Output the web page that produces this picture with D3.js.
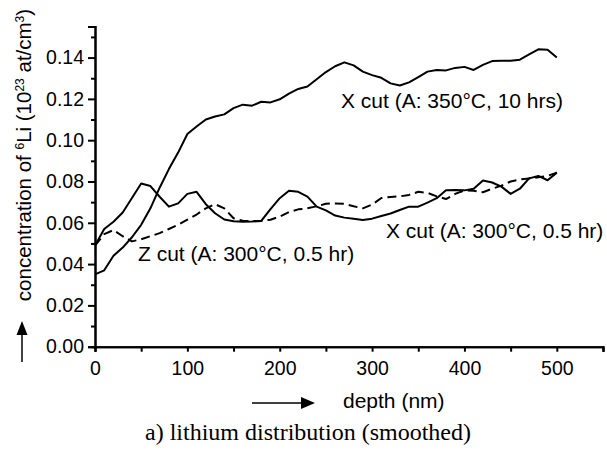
<!DOCTYPE html>
<html><head><meta charset="utf-8">
<script src="https://cdn.jsdelivr.net/npm/d3@7"></script>
<style>body{margin:0;background:#fff}svg{display:block}</style>
</head><body>
<svg id="c" width="607" height="456"></svg>
<script>
const depth = [0,10,20,30,40,50,60,70,80,90,100,110,120,130,140,150,160,170,180,190,200,210,220,230,240,250,260,270,280,290,300,310,320,330,340,350,360,370,380,390,400,410,420,430,440,450,460,470,480,490,500];
const xcut350 = [0.035,0.037,0.044,0.048,0.053,0.059,0.067,0.077,0.086,0.094,0.103,0.1066,0.110,0.1115,0.1125,0.1155,0.1172,0.1167,0.1186,0.1183,0.1198,0.1225,0.1248,0.126,0.1295,0.133,0.1358,0.1377,0.1362,0.1332,0.1315,0.1302,0.1275,0.1265,0.128,0.1305,0.1332,0.134,0.1338,0.135,0.1355,0.134,0.1365,0.1383,0.1385,0.1385,0.139,0.1415,0.144,0.1438,0.140];
const xcut300 = [0.049,0.057,0.0605,0.065,0.072,0.079,0.0778,0.0726,0.0678,0.0694,0.074,0.075,0.069,0.0646,0.0616,0.0607,0.0605,0.0606,0.0609,0.0666,0.0719,0.0755,0.075,0.0727,0.0678,0.066,0.0635,0.0625,0.062,0.0614,0.062,0.0633,0.0645,0.0662,0.0678,0.0678,0.0698,0.0719,0.0758,0.0759,0.0757,0.0765,0.0805,0.0795,0.0775,0.074,0.0765,0.0815,0.0827,0.0806,0.0843];
const zcut300 = [0.049,0.0545,0.0565,0.0535,0.051,0.052,0.0535,0.055,0.057,0.059,0.0615,0.064,0.067,0.069,0.067,0.0622,0.061,0.0608,0.0609,0.0615,0.063,0.0652,0.0665,0.067,0.068,0.0692,0.0694,0.0692,0.068,0.067,0.0688,0.072,0.0725,0.0728,0.0735,0.075,0.0745,0.0728,0.0715,0.074,0.0757,0.0755,0.0748,0.0765,0.078,0.080,0.081,0.0815,0.082,0.0827,0.0843];
const xTicks = [0,100,200,300,400,500];
const yTicks = [0,0.02,0.04,0.06,0.08,0.10,0.12,0.14];
const seriesNames = ["X cut (A: 350°C, 10 hrs)","X cut (A: 300°C, 0.5 hr)","Z cut (A: 300°C, 0.5 hr)"];

const svg = d3.select("#c");
const x = d3.scaleLinear().domain([0,550]).range([95,603]);
const y = d3.scaleLinear().domain([0,0.155]).range([346.7,26.6]);
const sans = "'Liberation Sans', Arial, Helvetica, sans-serif";

// axes
const xAxis = d3.axisBottom(x).tickValues(xTicks).tickSize(5).tickPadding(9).tickFormat(d3.format("d"));
const xMinor = d3.axisBottom(x).tickValues(d3.range(50,551,100)).tickSize(5).tickFormat("");
const yAxis = d3.axisLeft(y).tickValues(yTicks).tickSize(7).tickPadding(4).tickFormat(d3.format(".2f"));
const yMinor = d3.axisLeft(y).tickValues(d3.range(0.01,0.151,0.02)).tickSize(4).tickFormat("");

function style(g){
  g.select(".domain").attr("stroke","#000").attr("stroke-width",2);
  g.selectAll(".tick line").attr("stroke","#000").attr("stroke-width",2);
  g.selectAll(".tick text").attr("fill","#000").style("font-family",sans).style("font-size","19.5px");
}
svg.append("g").attr("transform","translate(0,346.7)").call(xMinor).call(style);
svg.append("g").attr("transform","translate(0,346.7)").call(xAxis).call(style);
svg.append("g").attr("transform","translate(95,0)").call(yMinor).call(style);
svg.append("g").attr("transform","translate(95,0)").call(yAxis).call(style);

// lines
const line = d3.line().x((d,i)=>x(depth[i])).y(d=>y(d));
const data = [xcut350, xcut300, zcut300];
const dashes = [null, null, "9,5"];
data.forEach((s,k)=>{
  svg.append("path").attr("d",line(s)).attr("fill","none").attr("stroke","#000")
    .attr("stroke-width",2).attr("stroke-linejoin","round")
    .attr("stroke-dasharray",dashes[k]);
});

// annotations
const ann = [[341,108],[386,238],[138,261]];
seriesNames.forEach((t,i)=>{
  svg.append("text").attr("x",ann[i][0]).attr("y",ann[i][1]).text(t)
    .style("font-family",sans).style("font-size","21px").attr("fill","#000");
});

// x label + arrow
svg.append("text").attr("x",343).attr("y",408).text("depth (nm)")
  .style("font-family",sans).style("font-size","21px");
svg.append("line").attr("x1",252).attr("x2",304).attr("y1",403).attr("y2",403).attr("stroke","#000").attr("stroke-width",1.5);
svg.append("path").attr("d","M301,397 L315,403 L301,409 Z").attr("fill","#000");

// y label + arrow
const yl = svg.append("text").attr("transform","translate(31,155) rotate(-90)").attr("text-anchor","middle")
  .style("font-family",sans).style("font-size","20.5px");
yl.append("tspan").text("concentration of ");
yl.append("tspan").text("6").attr("dy",-7).style("font-size","12px");
yl.append("tspan").text("Li (10").attr("dy",7);
yl.append("tspan").text("23").attr("dy",-7).style("font-size","12px");
yl.append("tspan").text(" at/cm").attr("dy",7);
yl.append("tspan").text("3").attr("dy",-7).style("font-size","12px");
yl.append("tspan").text(")").attr("dy",7);
svg.append("line").attr("x1",22).attr("x2",22).attr("y1",362).attr("y2",332).attr("stroke","#000").attr("stroke-width",1.5);
svg.append("path").attr("d","M16.5,335 L22,321 L27.5,335 Z").attr("fill","#000");

// caption
svg.append("text").attr("x",308).attr("y",440).attr("text-anchor","middle")
  .text("a) lithium distribution (smoothed)")
  .style("font-family","'Liberation Serif', 'Times New Roman', serif").style("font-size","24px");
</script>
</body></html>
